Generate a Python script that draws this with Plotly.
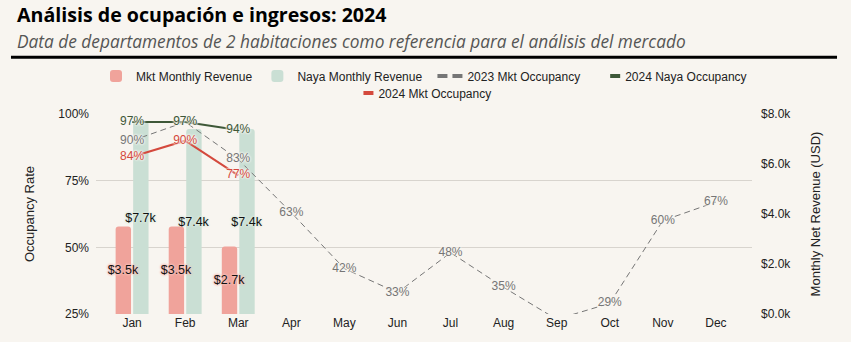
import plotly.graph_objects as go

# ---- data -------------------------------------------------------------
months = ["Jan", "Feb", "Mar", "Apr", "May", "Jun",
          "Jul", "Aug", "Sep", "Oct", "Nov", "Dec"]

mkt_revenue_2024 = [3500, 3500, 2700]          # USD, market monthly net revenue
naya_revenue_2024 = [7700, 7400, 7400]         # USD, Naya monthly net revenue

mkt_occ_2023 = [90, 97, 83, 63, 42, 33, 48, 35, 23, 29, 60, 67]   # %
naya_occ_2024 = [97, 97, 94]                                       # %
mkt_occ_2024 = [84, 90, 77]                                        # %

occ_ticks = [25, 50, 75, 100]
occ_tick_labels = ["25%", "50%", "75%", "100%"]
rev_ticks = [0, 2000, 4000, 6000, 8000]
rev_tick_labels = ["$0.0k", "$2.0k", "$4.0k", "$6.0k", "$8.0k"]

# ---- styling ----------------------------------------------------------
BG = "#f8f5f0"
PINK = "#f0a39b"
SAGE = "#cadfd4"
GREY = "#767676"
FOREST = "#3e5838"
RED = "#d4493d"
FONT = "Liberation Sans, Arial, sans-serif"
OCC_MIN, OCC_MAX = 25, 100
BAR_W = 0.29


def halo(color):
    return f"0 0 2px {color}, 0 0 2px {color}, 0 0 3px {color}, 0 0 3px {color}"


def pct_labels(values):
    return [f"{v}%" if OCC_MIN <= v <= OCC_MAX else "" for v in values]


def k_labels(values):
    return [f"${v / 1000:.1f}k" for v in values]


fig = go.Figure()

# revenue bars (right axis); the Naya bars go in first so the market
# labels can spill over them without being hidden
fig.add_trace(go.Bar(
    name="Naya Monthly Revenue", x=months[:len(naya_revenue_2024)], y=naya_revenue_2024,
    yaxis="y", width=BAR_W, offset=0.02, legendrank=2,
    marker=dict(color=SAGE, line=dict(width=0)),
    text=k_labels(naya_revenue_2024), textposition="inside", insidetextanchor="middle",
    textangle=0, constraintext="none",
    textfont=dict(family=FONT, size=12.5, color="#111111", shadow=halo("#dcebe2")),
    legend="legend", hoverinfo="skip",
))
fig.add_trace(go.Bar(
    name="Mkt Monthly Revenue", x=months[:len(mkt_revenue_2024)], y=mkt_revenue_2024,
    yaxis="y", width=BAR_W, offset=-0.02 - BAR_W, legendrank=1,
    marker=dict(color=PINK, line=dict(width=0)),
    text=k_labels(mkt_revenue_2024), textposition="inside", insidetextanchor="middle",
    textangle=0, constraintext="none",
    textfont=dict(family=FONT, size=12.5, color="#111111", shadow=halo("#f7c2bb")),
    legend="legend", hoverinfo="skip",
))

# occupancy lines (left axis)
fig.add_trace(go.Scatter(
    x=months, y=mkt_occ_2023, yaxis="y2", mode="lines+text",
    line=dict(color=GREY, width=1, dash="6px,4px"),
    text=pct_labels(mkt_occ_2023), textposition="middle center",
    textfont=dict(family=FONT, size=12, color=GREY, shadow=halo(BG)),
    showlegend=False, hoverinfo="skip",
))
fig.add_trace(go.Scatter(
    x=months[:len(naya_occ_2024)], y=naya_occ_2024, yaxis="y2", mode="lines+text",
    line=dict(color=FOREST, width=2),
    text=pct_labels(naya_occ_2024), textposition="middle center",
    textfont=dict(family=FONT, size=12, color=FOREST, shadow=halo(BG)),
    showlegend=False, hoverinfo="skip",
))
fig.add_trace(go.Scatter(
    x=months[:len(mkt_occ_2024)], y=mkt_occ_2024, yaxis="y2", mode="lines+text",
    line=dict(color=RED, width=2),
    text=pct_labels(mkt_occ_2024), textposition="middle center",
    textfont=dict(family=FONT, size=12, color=RED, shadow=halo(BG)),
    showlegend=False, hoverinfo="skip",
))

# legend keys for the lines (thicker swatches than the plotted lines)
legend_keys = [
    ("2023 Mkt Occupancy", GREY, "0px,5px,10px,5px,10px,100px", "legend", 3),
    ("2024 Naya Occupancy", FOREST, "0px,20px,10px,100px", "legend", 4),
    ("2024 Mkt Occupancy", RED, "0px,20px,10px,100px", "legend2", 5),
]
for name, color, dash, lg, rank in legend_keys:
    fig.add_trace(go.Scatter(
        name=name, x=[None], y=[None], yaxis="y2", mode="lines",
        line=dict(color=color, width=4, dash=dash), legend=lg, legendrank=rank,
        hoverinfo="skip",
    ))

axis_font = dict(family=FONT, size=12, color="#222222")
title_font = dict(family=FONT, size=13, color="#222222")

fig.update_layout(
    width=851, height=342,
    margin=dict(l=96, r=99, t=114, b=28),
    paper_bgcolor=BG, plot_bgcolor=BG,
    font=dict(family=FONT, size=12, color="#222222"),
    barmode="overlay", barcornerradius=3,
    xaxis=dict(
        type="category", categoryorder="array", categoryarray=months,
        range=[-0.68, 11.68], showgrid=False, zeroline=False, showline=False,
        ticks="", tickfont=axis_font, fixedrange=True,
    ),
    yaxis=dict(
        side="right", range=[0, 8000], tickvals=rev_ticks, ticktext=rev_tick_labels,
        showgrid=False, zeroline=False, showline=False, ticks="",
        tickfont=axis_font, ticklabelstandoff=8,
        title=dict(text="Monthly Net Revenue (USD)", font=title_font, standoff=20),
    ),
    yaxis2=dict(
        overlaying="y", side="left", range=[OCC_MIN, OCC_MAX],
        tickvals=occ_ticks, ticktext=occ_tick_labels,
        showgrid=True, gridcolor="#d8d4ce", gridwidth=1,
        zeroline=False, showline=False, ticks="", tickfont=axis_font,
        ticklabelstandoff=6,
        title=dict(text="Occupancy Rate", font=title_font, standoff=20),
    ),
    legend=dict(
        orientation="h", x=0.5, xanchor="center", y=1.19, yanchor="middle",
        font=dict(family=FONT, size=12, color="#222222"), bgcolor="rgba(0,0,0,0)",
        traceorder="normal",
    ),
    legend2=dict(
        orientation="h", x=0.49, xanchor="center", y=1.105, yanchor="middle",
        font=dict(family=FONT, size=12, color="#222222"), bgcolor="rgba(0,0,0,0)",
    ),
    annotations=[
        dict(text="<b>Análisis de ocupación e ingresos: 2024</b>",
             xref="paper", yref="paper", x=-0.1235, y=1.495,
             xanchor="left", yanchor="middle", showarrow=False,
             font=dict(family="Open Sans", size=19.6, color="#000000")),
        dict(text="<i>Data de departamentos de 2 habitaciones como referencia para el análisis del mercado</i>",
             xref="paper", yref="paper", x=-0.1235, y=1.365,
             xanchor="left", yanchor="middle", showarrow=False,
             font=dict(family="Open Sans", size=17.3, color="#555555")),
    ],
    shapes=[
        dict(type="line", xref="paper", yref="paper",
             x0=-0.1296, x1=1.1296, y0=1.2835, y1=1.2835,
             line=dict(color="#000000", width=3)),
    ],
)

fig.write_html("out.html")
